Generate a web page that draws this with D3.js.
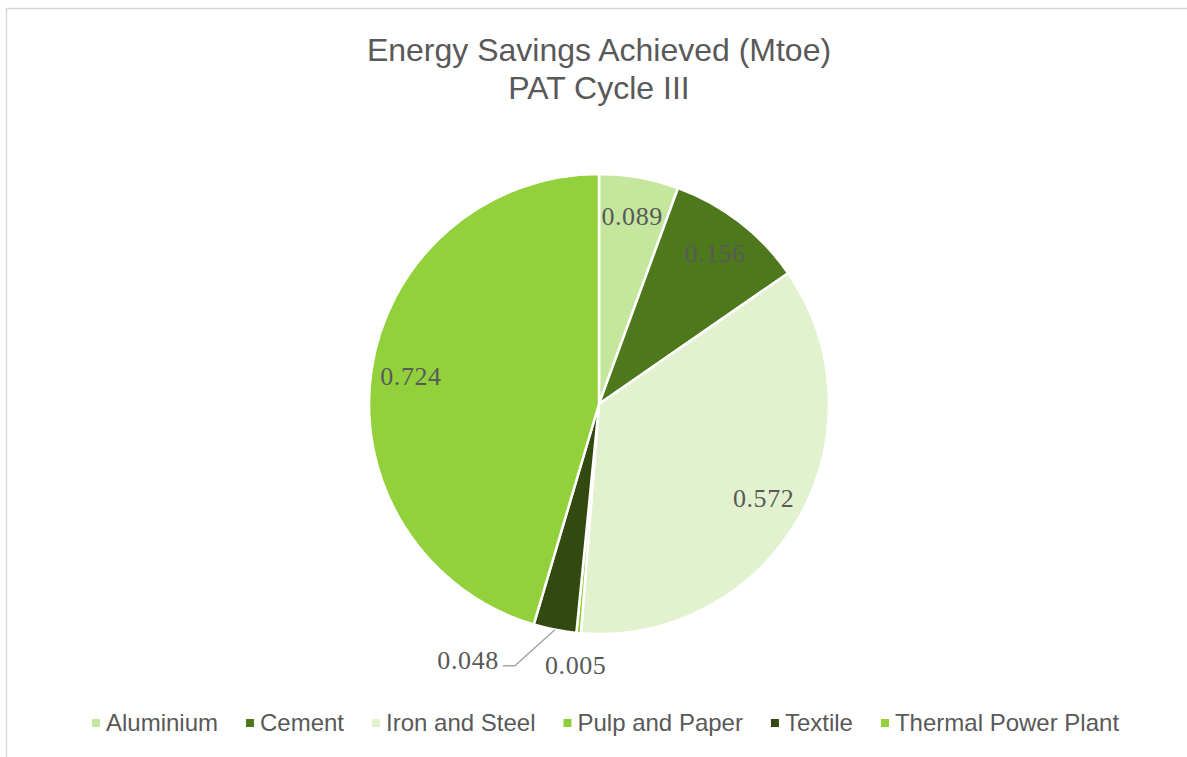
<!DOCTYPE html>
<html>
<head>
<meta charset="utf-8">
<script src="https://cdn.jsdelivr.net/npm/d3@7"></script>
<style>
  html, body { margin: 0; padding: 0; background: #fff; }
  #canvas { width: 1187px; height: 757px; overflow: hidden; }
</style>
</head>
<body>
<div id="canvas"></div>
<script>
// data
const sectors = ["Aluminium", "Cement", "Iron and Steel", "Pulp and Paper", "Textile", "Thermal Power Plant"];
const savings = [0.089, 0.156, 0.572, 0.005, 0.048, 0.724];
const labels = ["0.089", "0.156", "0.572", "0.005", "0.048", "0.724"];
const colours = ["#c5e69d", "#4e781c", "#e2f2cf", "#8fcf3c", "#324a10", "#92d13c"];
const titleLines = ["Energy Savings Achieved (Mtoe)", "PAT Cycle III"];

const dims = { width: 1187, height: 757, radius: 230 };
const cen = { x: 599, y: 404 };
const textColor = "#595959";

const data = sectors.map((s, i) => ({ sector: s, value: savings[i], label: labels[i] }));

const color = d3.scaleOrdinal().domain(sectors).range(colours);

const svg = d3
  .select("#canvas")
  .append("svg")
  .attr("width", dims.width)
  .attr("height", dims.height);

// chart area border (runs off the right and bottom edge)
svg
  .append("rect")
  .attr("x", 6.5)
  .attr("y", 8.5)
  .attr("width", 1300)
  .attr("height", 900)
  .attr("fill", "#fff")
  .attr("stroke", "#d9d9d9")
  .attr("stroke-width", 1.5);

// title
svg
  .append("text")
  .attr("text-anchor", "middle")
  .attr("font-family", "Liberation Sans, Arial, sans-serif")
  .attr("font-size", 32)
  .attr("fill", textColor)
  .selectAll("tspan")
  .data(titleLines)
  .enter()
  .append("tspan")
  .attr("x", cen.x)
  .attr("y", (d, i) => 61 + i * 38)
  .text(d => d);

const pieGen = d3
  .pie()
  .sort(null)
  .value(d => d.value);

const arcGen = d3
  .arc()
  .innerRadius(0)
  .outerRadius(dims.radius);

const labelArc = d3
  .arc()
  .innerRadius(190)
  .outerRadius(190);

const graph = svg.append("g").attr("transform", `translate(${cen.x}, ${cen.y})`);

const arcs = pieGen(data);

graph
  .selectAll("path")
  .data(arcs)
  .enter()
  .append("path")
  .attr("d", arcGen)
  .attr("fill", d => color(d.data.sector))
  .attr("stroke", "#fff")
  .attr("stroke-width", 2.5)
  .attr("stroke-linejoin", "round");

// small slices get their label outside the pie
const outside = { "Pulp and Paper": { r: 263 }, "Textile": { leader: true } };

const polar = (a, r) => [r * Math.sin(a), -r * Math.cos(a)];
const mid = d => (d.startAngle + d.endAngle) / 2;

const labelGroup = graph
  .append("g")
  .attr("font-family", "Liberation Serif, DejaVu Serif, serif")
  .attr("font-size", 26)
  .attr("letter-spacing", 0.6)
  .attr("fill", textColor);

arcs.forEach(d => {
  const opt = outside[d.data.sector];
  if (!opt) {
    const [x, y] = labelArc.centroid(d);
    labelGroup
      .append("text")
      .attr("x", x)
      .attr("y", y)
      .attr("text-anchor", "middle")
      .attr("dominant-baseline", "central")
      .text(d.data.label);
  } else if (opt.leader) {
    const p0 = polar(mid(d), dims.radius);
    const elbow = [p0[0] - 40, p0[1] + 36];
    const end = [elbow[0] - 12, elbow[1]];
    graph
      .append("polyline")
      .attr("points", [p0, elbow, end].map(p => p.join(",")).join(" "))
      .attr("fill", "none")
      .attr("stroke", "#a6a6a6")
      .attr("stroke-width", 1.5);
    labelGroup
      .append("text")
      .attr("x", end[0] - 4)
      .attr("y", end[1] - 5)
      .attr("text-anchor", "end")
      .attr("dominant-baseline", "central")
      .text(d.data.label);
  } else {
    const [x, y] = polar(mid(d), opt.r);
    labelGroup
      .append("text")
      .attr("x", x)
      .attr("y", y)
      .attr("text-anchor", "middle")
      .attr("dominant-baseline", "central")
      .text(d.data.label);
  }
});

// legend
const legendGroup = svg
  .append("g")
  .attr("font-family", "Liberation Sans, Arial, sans-serif")
  .attr("font-size", 24)
  .attr("fill", textColor);

const legendY = 723;
const items = legendGroup
  .selectAll("g")
  .data(sectors)
  .enter()
  .append("g");

items
  .append("rect")
  .attr("width", 8)
  .attr("height", 8)
  .attr("y", legendY - 4)
  .attr("fill", d => color(d));

items
  .append("text")
  .attr("x", 14)
  .attr("y", legendY + 8)
  .text(d => d);

let xPos = 0;
const offsets = [];
items.each(function() {
  const w = d3.select(this).select("text").node().getComputedTextLength();
  offsets.push(xPos);
  xPos += 14 + w + 28;
});
const legendWidth = xPos - 28;
const startX = 605.5 - legendWidth / 2;
items.attr("transform", (d, i) => `translate(${startX + offsets[i]}, 0)`);
</script>
</body>
</html>
